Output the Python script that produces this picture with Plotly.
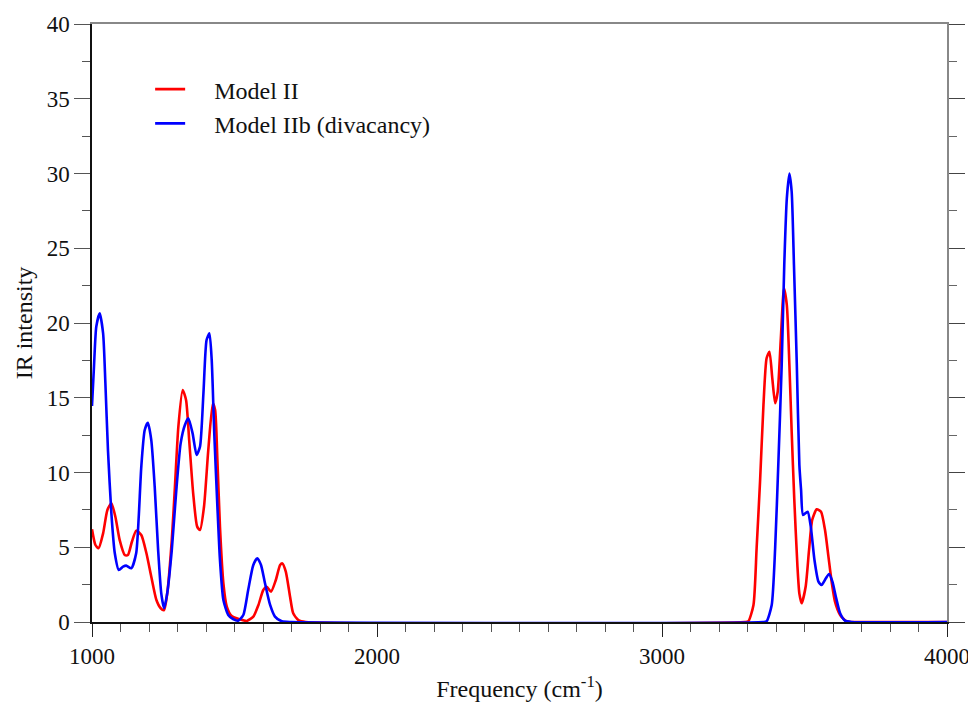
import plotly.graph_objects as go

# Model II (red)
freq_model2 = [1000, 1012, 1023, 1039, 1054, 1068, 1082, 1097, 1115, 1126, 1140, 1155, 1173, 1191,
               1208, 1226, 1241, 1253, 1264, 1280, 1291, 1303, 1318, 1330, 1341, 1355, 1369, 1379,
               1393, 1408, 1424, 1432, 1440, 1449, 1461, 1473, 1490, 1519, 1543, 1566, 1584, 1601,
               1613, 1628, 1645, 1660, 1668, 1680, 1695, 1706, 1724, 1750, 3290, 3303, 3321, 3332,
               3344, 3356, 3367, 3377, 3387, 3397, 3406, 3417, 3428, 3438, 3447, 3455, 3464, 3475,
               3482, 3490, 3504, 3516, 3527, 3543, 3558, 3572, 3584, 3596, 3607, 3625, 3648, 3670, 4000]
int_model2 = [6.2, 5.15, 4.93, 5.93, 7.49, 7.94, 7.04, 5.49, 4.48, 4.48, 5.37, 6.11, 5.82, 4.6,
              3.03, 1.47, 0.92, 0.8, 1.92, 5.49, 9.05, 13.06, 15.52, 14.85, 12.17, 8.61, 6.38, 6.15,
              7.71, 11.5, 14.63, 14.18, 10.84, 6.38, 2.59, 1.03, 0.4, 0.18, 0.07, 0.36, 1.14, 2.14,
              2.36, 2.03, 2.81, 3.81, 3.92, 3.37, 1.69, 0.58, 0.13, 0.0, 0.0, 0.05, 1.14, 4.93,
              9.39, 14.52, 17.64, 18.08, 16.3, 14.63, 15.4, 18.98, 22.32, 21.2, 17.19, 12.73, 8.27, 3.81,
              1.9, 1.25, 2.36, 4.82, 6.82, 7.54, 7.38, 6.15, 4.37, 2.59, 1.36, 0.47, 0.03, 0.0, 0.0]

# Model IIb (divacancy) (blue)
freq_model2b = [1000, 1007, 1015, 1027, 1039, 1047, 1056, 1068, 1080, 1094, 1109, 1120, 1138, 1155,
                1164, 1173, 1185, 1196, 1208, 1220, 1232, 1243, 1253, 1264, 1280, 1295, 1311, 1326,
                1338, 1353, 1367, 1379, 1391, 1402, 1412, 1420, 1429, 1440, 1449, 1461, 1478, 1495,
                1513, 1531, 1548, 1566, 1580, 1593, 1607, 1625, 1642, 1666, 1700, 3355, 3367, 3385,
                3397, 3408, 3420, 3429, 3438, 3447, 3455, 3463, 3473, 3482, 3488, 3495, 3511, 3522,
                3535, 3549, 3560, 3575, 3586, 3598, 3610, 3625, 3642, 3665, 4000]
int_model2b = [14.45, 17.1, 19.75, 20.65, 19.3, 15.97, 11.5, 7.27, 4.6, 3.48, 3.7, 3.77, 3.59, 4.6,
               7.04, 10.39, 12.84, 13.33, 12.17, 9.05, 4.82, 1.92, 0.92, 1.92, 4.82, 8.61, 11.95, 13.18,
               13.62, 12.62, 11.17, 11.73, 15.3, 18.86, 19.31, 17.53, 12.62, 7.71, 4.15, 1.47, 0.47, 0.2,
               0.09, 0.47, 2.14, 3.81, 4.26, 3.81, 2.59, 1.14, 0.36, 0.05, 0.0, 0.0, 0.05, 1.14,
               4.93, 10.5, 17.19, 23.88, 28.34, 30.0, 28.78, 23.88, 17.19, 10.5, 8.83, 7.16, 7.38, 6.38,
               4.15, 2.7, 2.47, 2.92, 3.21, 2.7, 1.69, 0.58, 0.09, 0.0, 0.0]

series_names = ["Model II", "Model IIb (divacancy)"]
x_ticks = [1000, 2000, 3000, 4000]
y_ticks = [0, 5, 10, 15, 20, 25, 30, 35, 40]

FONT = "Liberation Serif, Times New Roman, serif"
PAD = "\u00a0" * 4

fig = go.Figure()
fig.add_trace(go.Scatter(x=freq_model2, y=int_model2, mode="lines", name=PAD + series_names[0],
                         line=dict(color="#ff0000", width=2.6, shape="spline", smoothing=0.6),
                         legendgroup="a"))
fig.add_trace(go.Scatter(x=freq_model2b, y=int_model2b, mode="lines", name=PAD + series_names[1],
                         line=dict(color="#0000ff", width=2.6, shape="spline", smoothing=0.6),
                         legendgroup="b"))

fig.update_layout(
    width=976, height=706,
    margin=dict(l=84, r=37, t=16, b=92, autoexpand=False),
    paper_bgcolor="white", plot_bgcolor="white",
    font=dict(family=FONT, size=23, color="#111"),
    showlegend=True,
    legend=dict(x=0.068, y=0.928, xanchor="left", yanchor="top", bgcolor="rgba(0,0,0,0)",
                font=dict(family=FONT, size=24, color="#111"), traceorder="grouped",
                tracegroupgap=0, itemwidth=30),
    xaxis=dict(range=[1000, 4000], tickvals=x_ticks, ticktext=[str(v) for v in x_ticks],
               ticks="outside", ticklen=13, tickwidth=1.3, tickcolor="#222", automargin=False,
               showline=True, linecolor="#111", linewidth=1.5, mirror=False,
               showgrid=False, zeroline=False,
               minor=dict(dtick=100, ticks="outside", ticklen=8, tickcolor="#555", tickwidth=1),
               title=dict(text="Frequency (cm<sup>-1</sup>)", font=dict(family=FONT, size=24), standoff=12),
               tickfont=dict(family=FONT, size=23)),
    yaxis=dict(range=[0, 40], tickvals=y_ticks, ticktext=[str(v) for v in y_ticks],
               ticks="outside", ticklen=16, tickwidth=1.3, tickcolor="#555", automargin=False,
               showline=True, linecolor="#111", linewidth=1.5, mirror=False,
               showgrid=False, zeroline=False,
               minor=dict(dtick=2.5, ticks="outside", ticklen=8, tickcolor="#555", tickwidth=1),
               title=dict(text="IR intensity", font=dict(family=FONT, size=24), standoff=7),
               tickfont=dict(family=FONT, size=23)),
    xaxis2=dict(overlaying="x", side="top", range=[1000, 4000], showticklabels=False, automargin=False,
                ticks="", showline=True, linecolor="#888", linewidth=1.5, showgrid=False, zeroline=False),
    yaxis2=dict(overlaying="y", side="right", range=[0, 40], tickvals=y_ticks, showticklabels=False,
                ticks="outside", ticklen=16, tickwidth=1.3, tickcolor="#444", automargin=False,
                minor=dict(dtick=2.5, ticks="outside", ticklen=8, tickcolor="#666", tickwidth=1),
                showline=True, linecolor="#888", linewidth=1.5, showgrid=False, zeroline=False),
)
# invisible helper trace to activate the mirrored axes
fig.add_trace(go.Scatter(x=[1000], y=[0], xaxis="x2", yaxis="y2", mode="markers",
                         marker=dict(opacity=0), showlegend=False, hoverinfo="skip"))

fig.write_html("out.html")
